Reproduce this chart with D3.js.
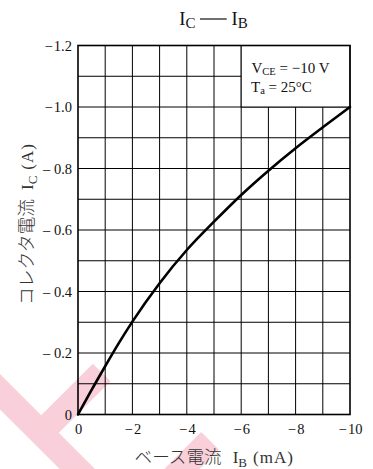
<!DOCTYPE html>
<html>
<head>
<meta charset="utf-8">
<script src="https://cdn.jsdelivr.net/npm/d3@7"></script>
<style>
  body { margin: 0; background: #fff; }
  svg { display: block; }
</style>
</head>
<body>
<div id="chart"></div>
<script>
// Kurvan: basström (mA) mot kollektorström (A)
const ibValues = [0, -0.5, -1, -1.5, -2, -3, -4, -5, -6, -7, -8, -9, -10];
const icValues = [0, -0.08, -0.157, -0.232, -0.302, -0.427, -0.535, -0.627, -0.714, -0.793, -0.866, -0.934, -1.0];

// Axlarnas tick-värden och texter
const xTicks = [0, -2, -4, -6, -8, -10];
const xTickLabels = ["0", "\u2212\u200a2", "\u2212\u200a4", "\u2212\u200a6", "\u2212\u200a8", "\u2212\u200a10"];
const yTicks = [0, -0.2, -0.4, -0.6, -0.8, -1.0, -1.2];
const yTickLabels = ["0", "\u2013 0.2", "\u2013 0.4", "\u2013 0.6", "\u2013 0.8", "\u2212\u200a1.0", "\u2212\u200a1.2"];
const xGrid = [-1, -2, -3, -4, -5, -6, -7, -8, -9];
const yGrid = [-0.1, -0.2, -0.3, -0.4, -0.5, -0.6, -0.7, -0.8, -0.9, -1.0, -1.1];

// Vattenstämpelns ränder (bara dekor)
const watermark = [
  [[-20, 371.7], [100, 491.7]],
  [[41, 433], [101.7, 372.5]],
  [[210, 440.8], [170, 481]]
];

const width = 373;
const height = 469;
const margin = { left: 78, right: 23, top: 45.5, bottom: 54.5 };
const serif = "'Liberation Serif', 'Times New Roman', serif";
const jp = "'Noto Sans CJK JP', sans-serif";

const xScale = d3.scaleLinear()
  .domain([0, -10])
  .range([margin.left, width - margin.right]);
const yScale = d3.scaleLinear()
  .domain([0, -1.2])
  .range([height - margin.bottom, margin.top]);

const svg = d3.select("#chart")
  .append("svg")
  .attr("width", width)
  .attr("height", height);

// vattenstämpel längst bak
svg.append("g")
  .selectAll("line")
  .data(watermark)
  .join("line")
  .attr("x1", d => d[0][0])
  .attr("y1", d => d[0][1])
  .attr("x2", d => d[1][0])
  .attr("y2", d => d[1][1])
  .attr("stroke", "#f9d0da")
  .attr("stroke-width", 25);

// rutnät
const grid = svg.append("g")
  .attr("stroke", "#000")
  .attr("stroke-width", 1);
grid.selectAll("line.v")
  .data(xGrid)
  .join("line")
  .attr("class", "v")
  .attr("x1", d => xScale(d))
  .attr("x2", d => xScale(d))
  .attr("y1", yScale(0))
  .attr("y2", yScale(-1.2));
grid.selectAll("line.h")
  .data(yGrid)
  .join("line")
  .attr("class", "h")
  .attr("x1", xScale(0))
  .attr("x2", xScale(-10))
  .attr("y1", d => yScale(d))
  .attr("y2", d => yScale(d));

// vit ruta för villkoren uppe till höger
svg.append("rect")
  .attr("x", xScale(-6))
  .attr("y", yScale(-1.2))
  .attr("width", xScale(-10) - xScale(-6))
  .attr("height", yScale(-1.0) - yScale(-1.2))
  .attr("fill", "#fff")
  .attr("stroke", "#000")
  .attr("stroke-width", 1);

// ram
svg.append("rect")
  .attr("x", xScale(0))
  .attr("y", yScale(-1.2))
  .attr("width", xScale(-10) - xScale(0))
  .attr("height", yScale(0) - yScale(-1.2))
  .attr("fill", "none")
  .attr("stroke", "#000")
  .attr("stroke-width", 1.6);

// kurvan
const line = d3.line()
  .x((d, i) => xScale(ibValues[i]))
  .y(d => yScale(d))
  .curve(d3.curveMonotoneX);
svg.append("path")
  .attr("d", line(icValues))
  .attr("fill", "none")
  .attr("stroke", "#000")
  .attr("stroke-width", 2.6)
  .attr("stroke-linecap", "round");

// axlar
const xAxis = d3.axisBottom(xScale)
  .tickValues(xTicks)
  .tickFormat((d, i) => xTickLabels[i])
  .tickSize(0)
  .tickPadding(9);
const yAxis = d3.axisLeft(yScale)
  .tickValues(yTicks)
  .tickFormat((d, i) => yTickLabels[i])
  .tickSize(0)
  .tickPadding(6);

svg.append("g")
  .attr("transform", "translate(0," + yScale(0) + ")")
  .call(xAxis)
  .call(g => g.select(".domain").remove());
svg.append("g")
  .attr("transform", "translate(" + xScale(0) + ",0)")
  .call(yAxis)
  .call(g => g.select(".domain").remove());
svg.selectAll(".tick text")
  .attr("font-family", serif)
  .attr("font-size", 14.5)
  .attr("fill", "#111");

// titel
const title = svg.append("g")
  .attr("font-family", serif)
  .attr("fill", "#111");
const tLeft = title.append("text")
  .attr("x", 195.5)
  .attr("y", 25)
  .attr("text-anchor", "end")
  .attr("font-size", 18.5);
tLeft.append("tspan").text("I");
tLeft.append("tspan").attr("font-size", 15).attr("dy", 3.3).text("C");
title.append("line")
  .attr("x1", 200)
  .attr("x2", 226.7)
  .attr("y1", 19)
  .attr("y2", 19)
  .attr("stroke", "#111")
  .attr("stroke-width", 1.2);
const tRight = title.append("text")
  .attr("x", 231.5)
  .attr("y", 25)
  .attr("font-size", 18.5);
tRight.append("tspan").text("I");
tRight.append("tspan").attr("font-size", 15).attr("dy", 3.3).text("B");

// villkor
const cond = svg.append("g")
  .attr("font-family", serif)
  .attr("font-size", 15)
  .attr("fill", "#111");
const c1 = cond.append("text").attr("x", 251.5).attr("y", 72.7);
c1.append("tspan").text("V");
c1.append("tspan").attr("font-size", 10.5).attr("dy", 2).text("CE");
c1.append("tspan").attr("dy", -2).text(" = \u221210 V");
const c2 = cond.append("text").attr("x", 251).attr("y", 91.7);
c2.append("tspan").text("T");
c2.append("tspan").attr("font-size", 10.5).attr("dy", 2).text("a");
c2.append("tspan").attr("dy", -2).text(" = 25\u00b0C");

// axeltitlar
const xTitle = svg.append("text")
  .attr("x", 214.2)
  .attr("y", 463)
  .attr("text-anchor", "middle")
  .attr("font-size", 17)
  .attr("fill", "#333");
xTitle.append("tspan").attr("font-family", jp).attr("font-weight", 300).attr("font-size", 17.6).text("ベース電流");
xTitle.append("tspan").attr("font-family", serif).attr("dx", 11).text("I");
xTitle.append("tspan").attr("font-family", serif).attr("font-size", 13).attr("dy", 3.5).text("B");
xTitle.append("tspan").attr("font-family", serif).attr("dy", -3.5).attr("dx", 6).attr("letter-spacing", 1).text("(mA)");

const yTitle = svg.append("text")
  .attr("transform", "translate(33,224) rotate(-90)")
  .attr("text-anchor", "middle")
  .attr("font-size", 17)
  .attr("fill", "#333");
yTitle.append("tspan").attr("font-family", jp).attr("font-weight", 300).attr("font-size", 17.8).text("コレクタ電流");
yTitle.append("tspan").attr("font-family", serif).attr("dx", 9).text("I");
yTitle.append("tspan").attr("font-family", serif).attr("font-size", 13).attr("dy", 3.5).text("C");
yTitle.append("tspan").attr("font-family", serif).attr("dy", -3.5).attr("dx", 6).attr("letter-spacing", 1).text("(A)");
</script>
</body>
</html>
